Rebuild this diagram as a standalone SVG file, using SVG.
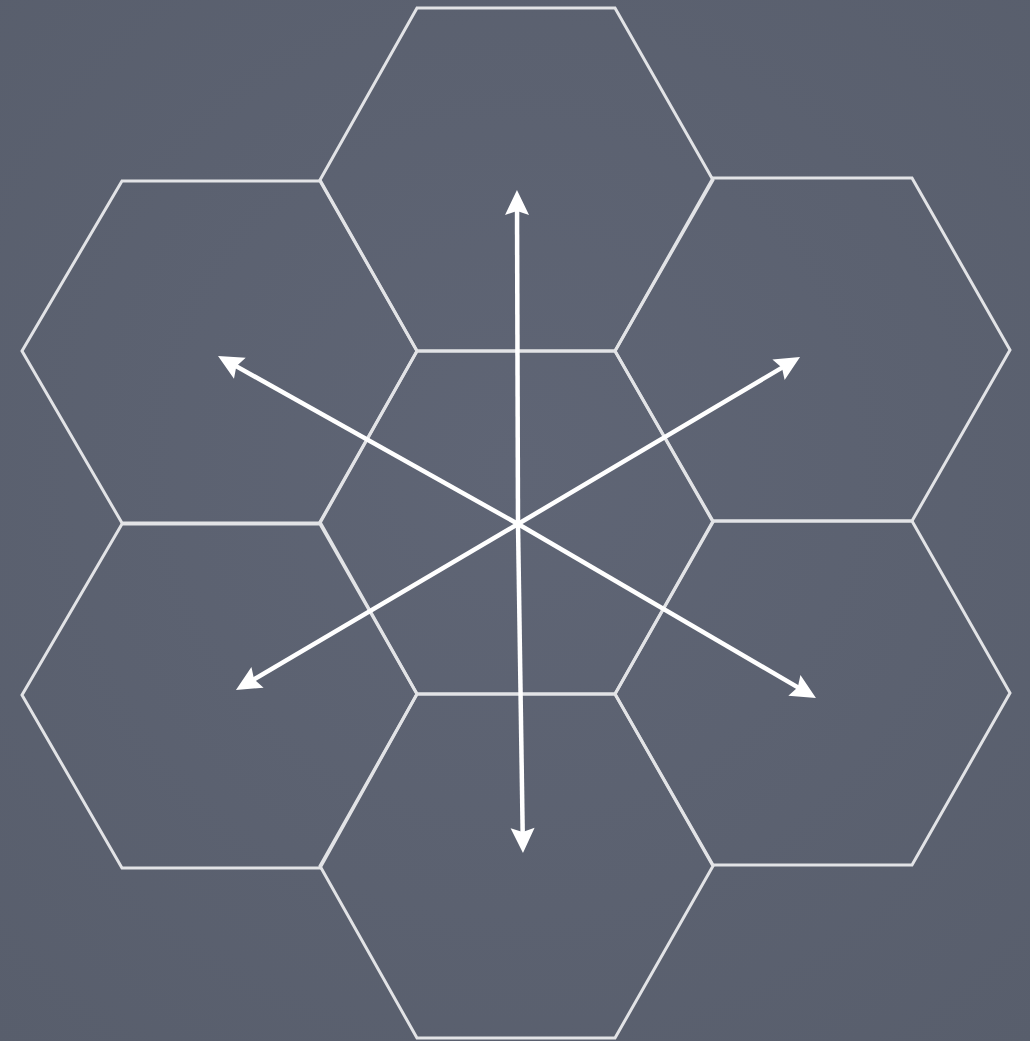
<svg xmlns="http://www.w3.org/2000/svg" width="1030" height="1041" viewBox="0 0 1030 1041">
<style>
.hex{fill:none;stroke:#e2e3e6;stroke-width:3;stroke-linejoin:miter}
.arr{stroke:#ffffff;stroke-width:4.5;fill:none}
</style>
<defs>
<radialGradient id="bg" cx="50%" cy="45%" r="75%">
<stop offset="0" stop-color="#5f6575"/>
<stop offset="1" stop-color="#585e6c"/>
</radialGradient>
<marker id="ah" markerUnits="userSpaceOnUse" viewBox="-16 -14 30 28" markerWidth="30" markerHeight="28" refX="0" refY="0" orient="auto" overflow="visible">
<path d="M12,0 L-13,-12 L-9,0 L-13,12 Z" fill="#ffffff"/>
</marker>
</defs>
<rect width="1030" height="1041" fill="url(#bg)"/>
<g id="hex-top"><polygon class="hex" points="417,8 615,8 713,180 615,351 417,351 320,180"/></g>
<g id="hex-upper-left"><polygon class="hex" points="122,181 320,181 417,351 320,523 122,523 22,351"/></g>
<g id="hex-upper-right"><polygon class="hex" points="713,178 912,178 1010,350 912,521 713,521 615,351"/></g>
<g id="hex-center"><polygon class="hex" points="417,351 615,351 713,522 615,694 417,694 320,522"/></g>
<g id="hex-lower-left"><polygon class="hex" points="122,524 320,524 417,694 320,868 122,868 22,695"/></g>
<g id="hex-lower-right"><polygon class="hex" points="713,521 912,521 1010,693 912,865 713,865 615,694"/></g>
<g id="hex-bottom"><polygon class="hex" points="417,694 615,694 713,866 615,1038 417,1038 320,866"/></g>
<g id="connectors">
<line class="arr" x1="518" y1="524" x2="517" y2="202" marker-end="url(#ah)"/>
<line class="arr" x1="518" y1="524" x2="522.8" y2="841" marker-end="url(#ah)"/>
<line class="arr" x1="518" y1="524" x2="228.5" y2="361.9" marker-end="url(#ah)"/>
<line class="arr" x1="518" y1="524" x2="789.7" y2="363.1" marker-end="url(#ah)"/>
<line class="arr" x1="518" y1="524" x2="246.3" y2="683.9" marker-end="url(#ah)"/>
<line class="arr" x1="518" y1="524" x2="805.6" y2="691.9" marker-end="url(#ah)"/>
</g>
</svg>
